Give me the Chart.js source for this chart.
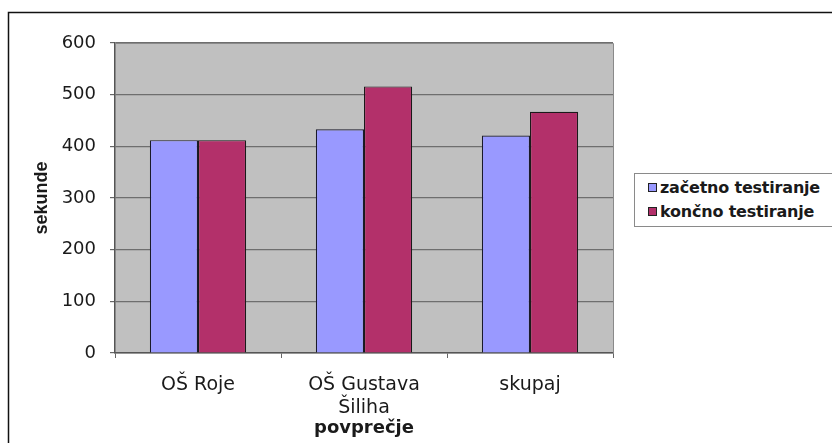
<!DOCTYPE html>
<html>
<head>
<meta charset="utf-8">
<script src="https://cdn.jsdelivr.net/npm/chart.js@4.4.1/dist/chart.umd.min.js"></script>
<style>
  html, body { margin: 0; padding: 0; background: #fff; }
  #wrap { position: relative; width: 832px; height: 443px; }
  #legend {
    position: absolute; left: 634px; top: 173px; width: 210px; height: 54px;
    border: 1px solid #8a8a8a; box-sizing: border-box; background: #fff;
    font-family: "DejaVu Sans", sans-serif; font-weight: bold; font-size: 16px;
    color: #1a1a1a; padding: 2px 0 0 13px; letter-spacing: -0.2px;
  }
  #legend .item { height: 24px; line-height: 24px; white-space: nowrap; }
  #legend .sw {
    display: inline-block; width: 7px; height: 7px; border: 1px solid #222;
    margin-right: 3px; vertical-align: 1px;
  }
</style>
</head>
<body>
<div id="wrap">
  <canvas id="c" width="832" height="443"></canvas>
  <div id="legend"></div>
</div>
<script>
// Average time (seconds), initial vs. final testing
const categories = [["OŠ Roje"], ["OŠ Gustava", "Šiliha"], ["skupaj"]];
const seriesNames = ["začetno testiranje", "končno testiranje"];
const zacetno = [412, 433, 421];
const koncno = [412, 516, 467];
const yTicks = [0, 100, 200, 300, 400, 500, 600];
const colors = ["#9999FF", "#B3306A"];

const plotBackdrop = {
  id: 'plotBackdrop',
  beforeDraw(chart) {
    const { ctx, chartArea: a } = chart;
    ctx.save();
    ctx.fillStyle = '#C0C0C0';
    ctx.fillRect(a.left, a.top, a.right - a.left, a.bottom - a.top);
    // outer chart frame (top and left edges visible)
    ctx.strokeStyle = '#111';
    ctx.lineWidth = 1.5;
    ctx.beginPath();
    ctx.moveTo(8.5, 460);
    ctx.lineTo(8.5, 12.5);
    ctx.lineTo(850, 12.5);
    ctx.stroke();
    ctx.restore();
  },
  afterDatasetsDraw(chart) {
    const { ctx, chartArea: a } = chart;
    ctx.save();
    ctx.strokeStyle = '#8a8a8a';
    ctx.lineWidth = 1;
    ctx.beginPath();
    ctx.moveTo(a.left, a.top + 0.5);
    ctx.lineTo(a.right + 0.5, a.top + 0.5);
    ctx.lineTo(a.right + 0.5, a.bottom);
    ctx.stroke();
    ctx.restore();
  }
};

const chart = new Chart(document.getElementById('c'), {
  type: 'bar',
  data: {
    labels: categories,
    datasets: [
      { label: seriesNames[0], data: zacetno, backgroundColor: colors[0], borderColor: '#1a1a2a', borderWidth: 1.2 },
      { label: seriesNames[1], data: koncno, backgroundColor: colors[1], borderColor: '#1a1a1a', borderWidth: 1.2 }
    ]
  },
  options: {
    responsive: false,
    animation: false,
    devicePixelRatio: 1,
    layout: { padding: { left: 31, top: 43, right: 219, bottom: 0 } },
    datasets: { bar: { categoryPercentage: 0.58, barPercentage: 1.0 } },
    plugins: {
      legend: { display: false },
      tooltip: { enabled: false }
    },
    scales: {
      y: {
        min: 0, max: 600,
        afterBuildTicks(scale) { scale.ticks = yTicks.map(v => ({ value: v })); },
        afterFit(scale) { scale.width = 84; },
        ticks: {
          color: '#1a1a1a', padding: 14,
          font: { family: 'DejaVu Sans', size: 18 }
        },
        grid: { color: '#6e6e6e', lineWidth: 1.2, tickLength: 5, tickColor: '#666' },
        border: { display: true, color: '#555', width: 1.5 },
        title: {
          display: true, text: 'sekunde', color: '#1a1a1a', padding: 0,
          font: { family: 'Liberation Sans', size: 18, weight: 'bold' }
        }
      },
      x: {
        afterFit(scale) { scale.height = 90; },
        ticks: {
          color: '#1a1a1a', padding: 15, maxRotation: 0,
          font: { family: 'DejaVu Sans', size: 19, lineHeight: 1.22 }
        },
        grid: { offset: true, drawOnChartArea: false, tickLength: 5, color: '#666' },
        border: { display: true, color: '#555', width: 1.5 },
        title: {
          display: true, text: 'povprečje', color: '#1a1a1a', padding: { top: 0, bottom: 4 },
          font: { family: 'DejaVu Sans', size: 18, weight: 'bold' }
        }
      }
    }
  },
  plugins: [plotBackdrop]
});

// legend built from the chart's datasets
const legend = document.getElementById('legend');
chart.data.datasets.forEach(ds => {
  const item = document.createElement('div');
  item.className = 'item';
  const sw = document.createElement('span');
  sw.className = 'sw';
  sw.style.background = ds.backgroundColor;
  item.appendChild(sw);
  item.appendChild(document.createTextNode(ds.label));
  legend.appendChild(item);
});
</script>
</body>
</html>
